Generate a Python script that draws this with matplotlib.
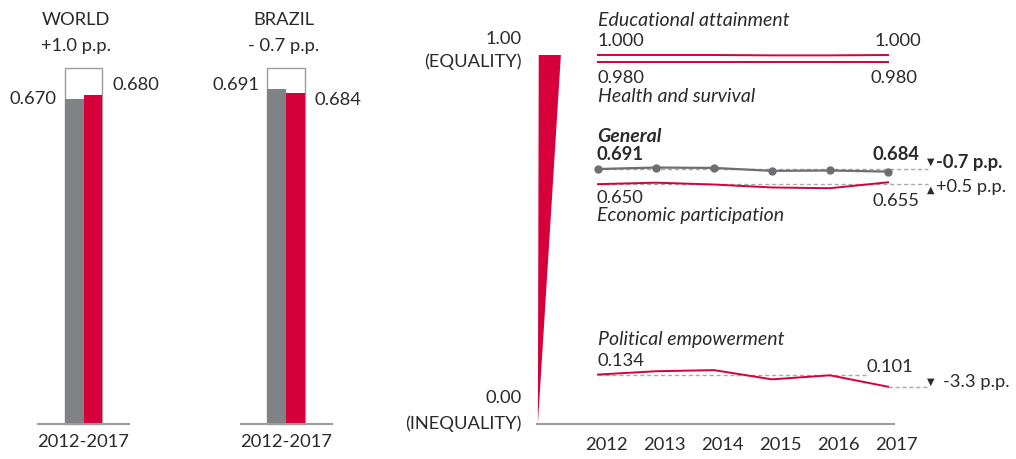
import matplotlib
matplotlib.use('Agg')
import matplotlib.pyplot as plt
from matplotlib.patches import Polygon, Rectangle

plt.rcParams['font.family'] = ['Lato', 'DejaVu Sans']

RED = '#d6003a'
GRAY = '#808285'
DARK = '#6d6e71'
DASH = '#a7a9ac'
EDGE = '#9d9d9d'
TXT = '#2a2a2a'

# left panels: WORLD and BRAZIL
panels = ['WORLD', 'BRAZIL']
changes = ['+1.0 p.p.', '- 0.7 p.p.']
val_2012 = [0.670, 0.691]
val_2017 = [0.680, 0.684]
period = '2012-2017'

# right panel: Brazil subindexes
years = [2012, 2013, 2014, 2015, 2016, 2017]
general = [0.691, 0.695, 0.694, 0.686, 0.687, 0.684]
educ = [1.000, 1.000, 1.000, 0.999, 0.999, 1.000]
health = [0.980, 0.980, 0.980, 0.980, 0.980, 0.980]
econ = [0.650, 0.654, 0.649, 0.641, 0.639, 0.655]
polit = [0.134, 0.143, 0.146, 0.121, 0.132, 0.101]

W, H = 1016, 459
FS = 13.2
FI = 14  # italic captions
fig = plt.figure(figsize=(W / 100, H / 100), dpi=100)


def rect(x0, x1, ytop, ybot):
    # pixel box -> figure fraction
    return [x0 / W, 1 - ybot / H, (x1 - x0) / W, (ybot - ytop) / H]


def ftext(x, y, s, **kw):
    kw.setdefault('fontsize', FS)
    kw.setdefault('color', TXT)
    fig.text(x / W, 1 - y / H, s, va='center', **kw)


# ---- bar panels
centers = [83.5, 286]
title_x = [76, 284]
lab_dy = [(0, 10), (4, -7)]
for i in range(len(panels)):
    cx = centers[i]
    ax = fig.add_axes(rect(cx - 45.5, cx + 45.5, 68, 424))
    ax.set_xlim(-2.4, 2.4)
    ax.set_ylim(0, 0.735)
    ax.add_patch(Rectangle((-1, 0), 2, 0.735, fill=False, ec=EDGE, lw=1,
                           clip_on=False, zorder=1))
    ax.bar([-0.5], [val_2012[i]], width=1, color=GRAY, zorder=2)
    ax.bar([0.5], [val_2017[i]], width=1, color=RED, zorder=2)
    for s in ['top', 'left', 'right']:
        ax.spines[s].set_visible(False)
    ax.spines['bottom'].set_color(EDGE)
    ax.spines['bottom'].set_linewidth(1.5)
    ax.set_yticks([])
    ax.set_xticks([0])
    ax.set_xticklabels([period], fontsize=FS, color=TXT)
    ax.tick_params(axis='x', length=0, pad=7)
    ax.annotate(f'{val_2012[i]:.3f}', xy=(-1, val_2012[i]), xytext=(-8, lab_dy[i][0]),
                textcoords='offset pixels', ha='right', va='center',
                fontsize=FS, color=TXT, annotation_clip=False)
    ax.annotate(f'{val_2017[i]:.3f}', xy=(1, val_2017[i]), xytext=(10, lab_dy[i][1]),
                textcoords='offset pixels', ha='left', va='center',
                fontsize=FS, color=TXT, annotation_clip=False)
    ftext(title_x[i], 20, panels[i], ha='center')
    ftext(title_x[i], 46, changes[i], ha='center')

# ---- line panel
x0 = 2012 - 61 / 58
x1 = 2017 + 6 / 58
end = 2017 + 40 / 58
ax = fig.add_axes(rect(537, 894, 55, 424))
ax.set_xlim(x0, x1)
ax.set_ylim(0, 1)
for s in ['top', 'left', 'right']:
    ax.spines[s].set_visible(False)
ax.spines['bottom'].set_color(EDGE)
ax.spines['bottom'].set_linewidth(1.5)
ax.set_xticks([])
ax.set_yticks([])

ax.add_patch(Polygon([(x0 + 0.015, 0), (x0 + 0.03, 1.0), (2011.36, 1.0)],
                     closed=True, color=RED, lw=0, clip_on=False))

dash = dict(ls=(0, (3, 2)), color=DASH, lw=1, clip_on=False, zorder=1)
ax.plot([2012, end], [general[0]] * 2, **dash)
ax.plot([2012, end], [econ[0]] * 2, **dash)
ax.plot([2012, 2016.64], [polit[0]] * 2, **dash)
ax.plot([2017, end], [polit[-1]] * 2, **dash)

for ser in [educ, health, econ, polit]:
    ax.plot(years, ser, color=RED, lw=1.4, clip_on=False, zorder=3)
ax.plot(years, general, color=DARK, lw=1.6, marker='o', ms=5, clip_on=False, zorder=4)


def lab(x, y, s, dx, dy, **kw):
    kw.setdefault('fontsize', FS)
    kw.setdefault('color', TXT)
    kw.setdefault('ha', 'left')
    ax.annotate(s, xy=(x, y), xytext=(dx, dy), textcoords='offset pixels',
                va='center', annotation_clip=False, **kw)


def tri(x, y, s, dx, dy):
    lab(x, y, s, dx, dy, fontsize=7, family='DejaVu Sans', ha='center')


for yr in years:
    lab(yr, 0, str(yr), 8, -21, ha='center')

lab(2012, educ[0], 'Educational attainment', 0, 35, style='italic', fontsize=FI)
lab(2012, educ[0], f'{educ[0]:.3f}', 0, 14)
lab(2017, educ[-1], f'{educ[-1]:.3f}', 33, 14, ha='right')
lab(2012, health[0], f'{health[0]:.3f}', 0, -16)
lab(2017, health[-1], f'{health[-1]:.3f}', 30, -16, ha='right')
lab(2012, health[0], 'Health and survival', 0, -34, style='italic', fontsize=FI)

lab(2012, general[0], 'General', -1, 33, style='italic', weight='bold', fontsize=FI)
lab(2012, general[0], f'{general[0]:.3f}', -1, 15, weight='bold')
lab(2017, general[-1], f'{general[-1]:.3f}', 32, 17, ha='right', weight='bold')
tri(2017, general[-1], '\u25bc', 43, 10)
lab(2017, general[-1], '-0.7 p.p.', 48, 9, weight='bold')

lab(2012, econ[0], f'{econ[0]:.3f}', -1, -14)
lab(2012, econ[0], 'Economic participation', -1, -31, style='italic', fontsize=FI)
lab(2017, econ[-1], f'{econ[-1]:.3f}', 31, -19, ha='right')
tri(2017, econ[-1], '\u25b2', 43, -7)
lab(2017, econ[-1], '+0.5 p.p.', 48, -5)

lab(2012, polit[0], 'Political empowerment', 0, 35, style='italic', fontsize=FI)
lab(2012, polit[0], f'{polit[0]:.3f}', 0, 14)
lab(2017, polit[-1], f'{polit[-1]:.3f}', 25, 20, ha='right')
tri(2017, polit[-1], '\u25bc', 43, 5)
lab(2017, polit[-1], '-3.3 p.p.', 55, 5)

ftext(522, 39, '1.00', ha='right')
ftext(522, 62, '(EQUALITY)', ha='right')
ftext(522, 398, '0.00', ha='right')
ftext(522, 424, '(INEQUALITY)', ha='right')

fig.savefig('out.png', dpi=100)
